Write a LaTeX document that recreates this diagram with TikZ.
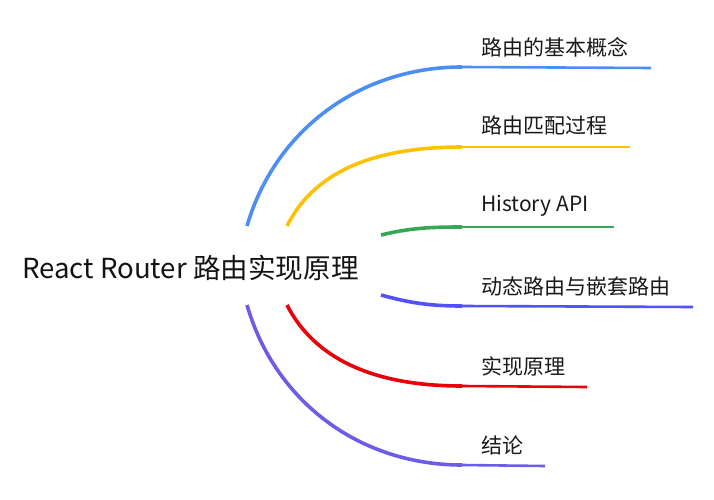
\documentclass[tikz,border=0pt]{standalone}
\usepackage{fontspec}
\setmainfont{Noto Sans CJK SC}
\definecolor{cA}{HTML}{4C8EF3}
\definecolor{cB}{HTML}{FFC107}
\definecolor{cC}{HTML}{34A853}
\definecolor{cD}{HTML}{5252F7}
\definecolor{cE}{HTML}{E8000B}
\definecolor{cF}{HTML}{6C5CE7}
\tikzset{
  branch/.style={line width=3.6pt},
  under/.style={line width=2.6pt},
  lbl/.style={anchor=west, inner sep=0pt, font=\fontsize{21}{25}\selectfont, text=black!90},
}
\begin{document}
\begin{tikzpicture}[x=1pt,y=-1pt]
\useasboundingbox (0,0) rectangle (714,500);
\node[anchor=west, inner sep=0pt, font=\fontsize{27.6}{32}\selectfont, text=black!92] (root) at (22,268) {React Router 路由实现原理};
% start coordinates
\coordinate (s1) at (247,226);
\coordinate (s2) at (287,226);
\coordinate (s3) at (381,235);
\coordinate (s4) at (381,295);
\coordinate (s5) at (287,305);
\coordinate (s6) at (247,305);
% junctions
\coordinate (j1) at (462,67);
\coordinate (j2) at (462,147);
\coordinate (j3) at (462,227);
\coordinate (j4) at (462,306);
\coordinate (j5) at (462,386);
\coordinate (j6) at (462,465);
% ends
\coordinate (e1) at (651,68);
\coordinate (e2) at (630,147);
\coordinate (e3) at (614,227);
\coordinate (e4) at (693,307);
\coordinate (e5) at (587,387);
\coordinate (e6) at (545,466);
% labels
\node[lbl] (l1) at (481,47) {路由的基本概念};
\node[lbl] (l2) at (481,126) {路由匹配过程};
\node[lbl] (l3) at (481,206) {History API};
\node[lbl] (l4) at (481,286) {动态路由与嵌套路由};
\node[lbl] (l5) at (481,366) {实现原理};
\node[lbl] (l6) at (481,445) {结论};
% branches
\draw[branch, cA] (s1) .. controls (275,130) and (360,67) .. (j1);
\draw[under, cA] (j1) -- (e1);
\draw[branch, cB] (s2) .. controls (310,180) and (360,147) .. (j2);
\draw[under, cB] (j2) -- (e2);
\draw[branch, cC] (s3) .. controls (410,228) and (430,227) .. (j3);
\draw[under, cC] (j3) -- (e3);
\draw[branch, cD] (s4) .. controls (410,303) and (430,306) .. (j4);
\draw[under, cD] (j4) -- (e4);
\draw[branch, cE] (s5) .. controls (310,350) and (360,386) .. (j5);
\draw[under, cE] (j5) -- (e5);
\draw[branch, cF] (s6) .. controls (275,402) and (360,465) .. (j6);
\draw[under, cF] (j6) -- (e6);
\end{tikzpicture}
\end{document}
